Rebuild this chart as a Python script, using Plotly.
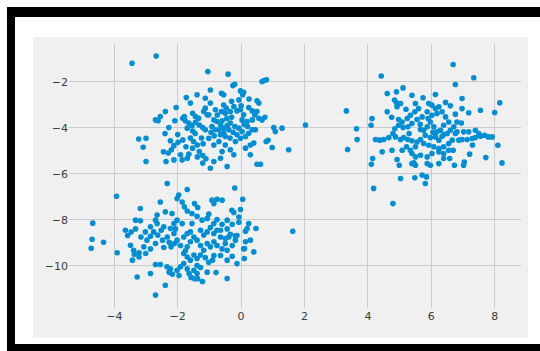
import plotly.graph_objects as go

# ---- data ----
blob_a_x = [-3.44, -2.68, -1.05, -1.73, -1.39, -1.13, -1.60, -2.05, -2.39, -2.55, -2.70, -2.62, -2.28, -2.09, -1.84,
            -1.76, -1.79, -1.53, -1.44, -1.34, -1.18, -1.07, -1.13, -1.65, -1.55, -1.44, -1.32, -1.21, -1.13, -1.53,
            -1.70, -3.23, -3.00, -3.09, -3.00, -2.23, -2.12, -2.20, -2.37, -2.12, -1.86, -1.99, -1.84, -1.74, -1.53,
            -1.38, -1.32, -1.21, -1.11, -1.65, -1.91, -1.70, -1.38, -1.21, -2.40, -2.00, -1.60, -1.45, -1.25, -1.20,
            -1.50, -2.45, -2.30,
            -0.41, -0.20, -0.26, 0.66, 0.80, 0.72, -0.97, -0.62, -0.55, -0.02, 0.08, 0.05, -0.07, 0.50, 0.56,
            -0.97, -0.81, -0.55, -0.47, -0.50, -0.34, -0.23, -0.13, -0.02, 0.08, 0.24, 0.35, 0.43, 0.50, -0.86,
            -0.76, -0.65, -0.70, -0.55, -0.44, -0.34, -0.39, -0.55, -0.50, -0.65, -0.81, -0.92, 0.03, 0.19, -0.07,
            0.03, -0.13, -0.02, 0.14, 0.24, 0.35, 0.45, 0.66, 0.56, 0.35, 1.03, 1.08, 1.29, 2.03, 0.79,
            0.98, 1.50, 0.29, 0.40, -0.18, -0.23, -0.60, -0.65, -0.97, -0.86, -0.44, 0.50, 0.61, -1.02, -1.02,
            -0.86, -0.50, 0.14, 0.29, -0.34, -0.70, -0.45, -0.30, -0.20, -0.60, -0.25, -0.35, -0.85, -0.95, 0.20,
            0.10, -0.75, -0.62, 0.00, -0.30, 0.25, 0.75, 0.85]
blob_a_y = [-1.20, -0.88, -1.56, -2.69, -2.57, -2.72, -2.93, -3.12, -3.30, -3.51, -3.66, -3.70, -3.99, -3.70, -3.59,
            -3.70, -3.51, -3.37, -3.51, -3.59, -3.30, -3.44, -3.15, -3.80, -3.91, -3.76, -3.88, -3.99, -4.09, -4.14,
            -4.02, -4.49, -4.46, -4.85, -5.47, -4.57, -4.78, -4.96, -5.47, -5.40, -5.40, -4.63, -4.53, -4.83, -4.89,
            -4.75, -5.04, -5.21, -5.35, -5.15, -5.18, -5.33, -5.27, -5.54, -4.25, -4.30, -4.45, -4.25, -4.45, -4.70,
            -4.60, -5.05, -5.10,
            -1.67, -2.11, -2.17, -1.99, -1.92, -1.95, -2.36, -2.50, -2.57, -2.40, -2.46, -2.57, -2.79, -2.83, -2.93,
            -2.93, -3.22, -3.01, -3.15, -3.37, -3.30, -3.08, -3.27, -3.22, -3.44, -3.12, -3.27, -3.44, -3.30, -3.66,
            -3.73, -3.88, -4.09, -4.02, -3.91, -3.80, -4.09, -4.24, -4.38, -4.31, -4.09, -3.95, -3.66, -3.73, -4.02,
            -4.17, -4.31, -4.46, -4.38, -4.24, -4.09, -4.09, -3.66, -3.59, -3.66, -3.99, -4.17, -4.02, -3.88, -4.60,
            -4.86, -4.96, -4.75, -4.67, -4.60, -5.18, -5.04, -5.33, -5.76, -5.47, -5.69, -5.59, -5.59, -3.44, -4.46,
            -4.75, -4.75, -4.89, -5.18, -4.96, -4.60, -3.60, -3.55, -3.95, -3.70, -4.20, -4.45, -4.35, -4.20, -3.95,
            -3.85, -3.45, -3.30, -3.05, -2.85, -2.75, -3.55, -4.55]

blob_b_x = [-4.68, -4.70, -4.73, -4.34, -3.93, -3.91, -2.33, -1.70, -0.20, -1.97, -2.02, -1.86, -2.55, -3.18, -0.92,
            -0.76, -0.60, -0.86, 0.05, -1.79, -1.70, -1.55, -1.39, -1.23, -1.07, -1.02, -1.47, -1.37, -0.29, -0.23,
            -0.07, -0.07, -0.28, -0.44, -0.60, -0.76, -0.86, -0.97, -0.65, -0.44, -0.34, -0.13, 0.14, 0.47, 0.40,
            0.11, -0.13, 1.63, -3.58, -3.47, -3.65, -3.33, -3.33, -3.18, -3.49, -3.39, -3.37, -3.43, -3.22, -3.22,
            -3.07, -2.97, -3.16, -2.86, -2.76, -2.63, -2.52, -2.48, -2.33, -2.27, -2.21, -2.10, -2.12, -2.07, -2.44,
            -2.70, -2.86, -3.01, -2.70, -2.55, -3.28, -2.86, -2.39, -2.70, -2.34, -2.23, -2.27, -2.17, -2.02, -1.96,
            -1.91, -1.81, -1.70, -1.64, -1.58, -1.47, -1.37, -1.22, -1.49, -1.39, -1.28, -1.07, -1.02, -0.90, -0.79,
            -0.44, -0.28, -0.44, -0.60, -0.76, -0.86, -0.97, -1.07, -1.18, -1.28, -1.39, -1.49, -1.60, -1.70, -1.76,
            -1.91, -2.02, -1.39, -1.49, -1.60, -1.70, -1.81, -1.28, -1.13, -0.86, -0.65, -0.44, -0.28, -1.81, -1.70,
            -1.60, -1.28, -1.18, -1.07, -0.86, -1.55, -1.86, -2.02, -2.12, -2.23, -2.44, -2.65, -2.86, -3.02, -2.70,
            0.14, 0.29, -0.18, -0.50, -0.65, -0.76, 0.19, 0.24, -0.02, -2.18, -2.39, -2.65, -1.39, -0.50, -0.39,
            -0.18, 0.08, 0.10]
blob_b_y = [-8.15, -8.85, -9.24, -8.98, -6.98, -9.44, -6.43, -6.69, -6.62, -6.93, -7.08, -7.23, -7.23, -7.51, -7.15,
            -7.11, -7.15, -7.30, -7.11, -7.44, -7.62, -7.73, -7.85, -8.02, -7.95, -7.76, -7.30, -7.47, -7.59, -7.69,
            -7.88, -8.11, -8.20, -8.02, -8.20, -7.99, -8.17, -8.34, -8.46, -8.40, -8.63, -8.69, -8.50, -8.38, -9.40,
            -9.25, -9.91, -8.50, -8.69, -8.54, -8.46, -8.40, -8.02, -8.05, -9.11, -9.33, -9.50, -9.76, -9.62, -9.44,
            -9.18, -8.89, -8.75, -8.72, -8.53, -8.67, -8.46, -8.89, -8.75, -8.98, -9.18, -9.04, -8.60, -8.40, -9.21,
            -9.04, -9.27, -9.47, -9.95, -9.95, -10.49, -10.34, -10.85, -11.28, -10.05, -10.14, -10.28, -10.37, -10.20, -10.43,
            -10.05, -9.91, -10.14, -10.34, -10.51, -10.57, -10.57, -10.69, -10.20, -9.99, -10.08, -10.28, -9.85, -9.76, -10.30,
            -10.56, -9.12, -9.33, -9.27, -9.12, -8.96, -9.18, -9.04, -9.33, -9.12, -8.89, -8.75, -8.96, -9.18, -9.35,
            -9.12, -8.89, -9.69, -9.54, -9.76, -9.62, -9.47, -9.54, -9.65, -9.56, -9.56, -9.76, -9.59, -8.75, -8.60,
            -8.53, -8.46, -8.67, -8.53, -8.60, -8.17, -8.17, -8.02, -8.17, -8.38, -8.31, -8.17, -8.31, -8.53, -8.02,
            -8.96, -8.89, -8.89, -8.82, -8.75, -8.46, -8.38, -8.17, -7.56, -7.73, -7.66, -7.80, -10.34, -9.04, -8.75,
            -8.70, -9.27, -9.69]

blob_c_x = [6.69, 4.42, 7.34, 6.76, 8.16, 8.00, 3.32, 7.55, 7.18, 6.97, 6.97, 6.76, 4.61, 4.90, 5.11,
            5.39, 5.74, 6.13, 4.84, 4.90, 5.03, 4.92, 4.61, 4.13, 4.10, 3.64, 3.66, 3.36, 4.24, 4.37,
            4.50, 4.66, 4.45, 4.15, 4.11, 4.18, 4.79, 5.03, 5.48, 4.99, 5.39, 5.50, 5.71, 5.85, 5.81,
            5.97, 6.24, 6.39, 6.58, 6.73, 7.02, 7.04, 7.72, 8.10, 8.23, 7.21,
            4.97, 5.08, 5.24, 5.34, 5.48, 5.60, 5.71, 5.55, 5.39, 5.26, 5.11, 4.97, 5.92, 6.02, 6.13,
            6.24, 6.18, 6.02, 5.87, 6.34, 6.45, 6.55, 6.39, 6.29, 6.18, 6.08, 5.97, 5.87, 5.76, 5.66,
            5.81, 5.97, 6.13, 6.24, 6.34, 6.50, 6.60, 6.71, 6.81, 6.76, 6.66, 6.55, 6.39, 6.24, 6.08,
            5.92, 5.76, 5.66, 5.55, 5.39, 5.26, 5.13, 5.03, 4.87, 4.79, 5.22, 5.34, 5.50, 5.39, 5.50,
            5.66, 5.87, 6.02, 6.24, 6.39, 6.55, 6.69, 6.87, 6.97, 7.13, 7.29, 7.39, 7.55, 7.68, 7.50,
            7.39, 7.18, 7.02, 7.92, 6.81, 4.76, 5.08, 4.92, 5.45, 5.87, 4.75, 4.85, 5.20, 5.50, 5.90,
            6.45, 6.60, 7.80, 7.30, 6.95, 5.30, 5.65, 6.05, 6.40]
blob_c_y = [-1.25, -1.75, -1.83, -2.12, -2.92, -3.34, -3.27, -3.24, -3.35, -3.17, -2.73, -3.41, -2.51, -2.44, -2.27,
            -2.59, -2.70, -2.56, -2.80, -2.92, -2.95, -3.09, -3.31, -3.60, -3.89, -4.05, -4.51, -4.95, -4.51, -4.54,
            -4.51, -4.43, -5.05, -5.34, -5.59, -6.64, -7.30, -6.21, -6.18, -5.63, -5.56, -5.63, -6.06, -6.14, -6.43,
            -5.63, -5.56, -5.34, -5.34, -5.63, -5.63, -5.49, -5.30, -4.76, -5.53, -5.15,
            -3.64, -3.75, -3.60, -3.46, -3.31, -3.17, -3.53, -3.64, -3.82, -3.96, -3.99, -3.89, -2.95, -3.02, -3.17,
            -3.09, -3.38, -3.46, -3.31, -3.31, -3.53, -3.75, -3.89, -4.11, -4.18, -3.96, -3.75, -3.96, -4.11, -4.08,
            -4.33, -4.43, -4.40, -4.54, -4.37, -4.25, -4.11, -3.96, -3.75, -4.25, -4.54, -4.69, -4.83, -4.91, -4.83,
            -4.76, -4.69, -4.51, -4.62, -4.57, -4.51, -4.43, -4.51, -4.40, -4.25, -4.83, -4.98, -4.83, -5.12, -5.27,
            -5.20, -5.27, -5.12, -5.05, -5.12, -4.98, -4.98, -4.54, -4.51, -4.51, -4.47, -4.43, -4.37, -4.33, -4.25,
            -4.11, -4.18, -4.18, -4.40, -4.18, -4.98, -4.98, -5.38, -5.53, -5.56, -3.55, -4.05, -3.20, -2.95, -3.60,
            -2.90, -3.05, -4.40, -4.75, -3.80, -4.25, -3.85, -4.20, -4.30]

x_ticks = [-4, -2, 0, 2, 4, 6, 8]
x_tick_labels = ["\u22124", "\u22122", "0", "2", "4", "6", "8"]
y_ticks = [-10, -8, -6, -4, -2]
y_tick_labels = ["\u221210", "\u22128", "\u22126", "\u22124", "\u22122"]

# ---- layout geometry (pixels) ----
W, H = 540, 351
ML, MR, MT, MB = 69, 19, 44, 43
PW, PH = W - ML - MR, H - MT - MB


def px(X):
    return (X - ML) / PW


def py(Y):
    return (H - MB - Y) / PH


all_x = blob_a_x + blob_b_x + blob_c_x
all_y = blob_a_y + blob_b_y + blob_c_y

fig = go.Figure()
fig.add_trace(go.Scatter(
    x=all_x, y=all_y, mode="markers",
    marker=dict(color="#008fd5", size=5.6, line=dict(width=0)),
    hoverinfo="skip", showlegend=False,
))

shapes = [
    # figure face (grey)
    dict(type="rect", xref="paper", yref="paper", x0=px(33), x1=px(528), y0=py(338), y1=py(37),
         fillcolor="#f0f0f0", line=dict(width=0), layer="below"),
    # black frame pieces
    dict(type="rect", xref="paper", yref="paper", x0=px(7), x1=px(545), y0=py(17), y1=py(7),
         fillcolor="#000000", line=dict(width=0), layer="above"),
    dict(type="rect", xref="paper", yref="paper", x0=px(7), x1=px(15), y0=py(356), y1=py(7),
         fillcolor="#000000", line=dict(width=0), layer="above"),
    dict(type="rect", xref="paper", yref="paper", x0=px(7), x1=px(545), y0=py(356), y1=py(344),
         fillcolor="#000000", line=dict(width=0), layer="above"),
]

fig.update_layout(
    width=W, height=H,
    margin=dict(l=ML, r=MR, t=MT, b=MB, pad=0),
    paper_bgcolor="#ffffff",
    plot_bgcolor="#f0f0f0",
    font=dict(family="DejaVu Sans", size=11, color="#3c3c3c"),
    shapes=shapes,
    xaxis=dict(range=[-5.43, 8.83], tickvals=x_ticks, ticktext=x_tick_labels,
               showgrid=True, gridcolor="#cbcbcb", gridwidth=1, zeroline=False,
               showline=False, ticks="", ticklen=0),
    yaxis=dict(range=[-11.84, -0.36], tickvals=y_ticks, ticktext=y_tick_labels,
               showgrid=True, gridcolor="#cbcbcb", gridwidth=1, zeroline=False,
               showline=False, ticks="", ticklen=0),
)

fig.write_html(
    "out.html",
    config={"displayModeBar": False},
    post_script="document.body.style.margin='0';document.body.style.overflow='hidden';",
)
